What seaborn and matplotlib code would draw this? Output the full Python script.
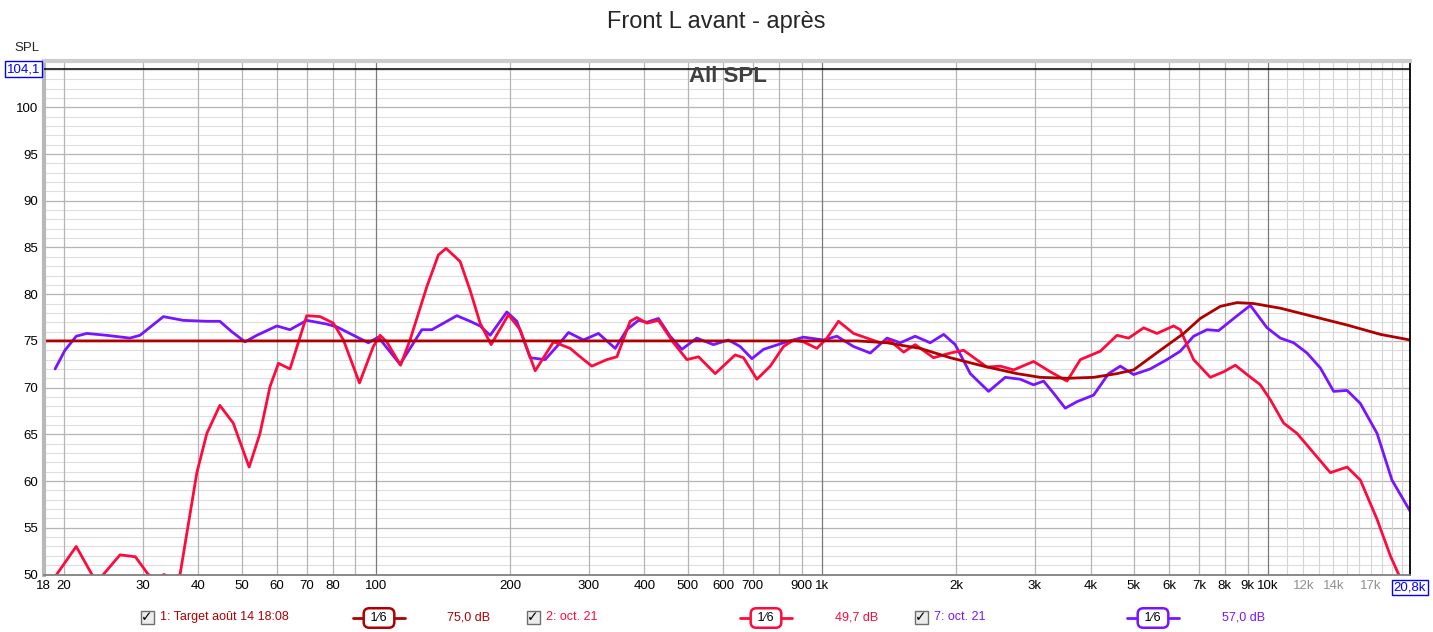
import numpy as np
import pandas as pd
import seaborn as sns
import matplotlib.pyplot as plt
from matplotlib.patches import Rectangle
from matplotlib.lines import Line2D

# curves (Hz, dB SPL)
target_hz = [18, 100, 1000, 1200, 1400, 1520, 1661, 1939, 2302, 2736, 3086, 3542, 4063,
             4585, 4995, 5733, 6468, 7045, 7816, 8518, 9281, 10653, 12654, 15035, 17852, 20800]
target_db = [75.0, 75.0, 75.0, 75.0, 74.8, 74.5, 74.2, 73.2, 72.3, 71.5, 71.1, 71.0, 71.1,
             71.5, 71.9, 74.0, 75.8, 77.4, 78.7, 79.1, 79.0, 78.5, 77.6, 76.7, 75.7, 75.1]

red_hz = [18.0, 19.25, 21.3, 23.1, 23.8, 24.5, 26.7, 28.9, 30.9, 32.2, 33.5, 34.9, 36.4,
          39.7, 41.8, 44.7, 47.9, 52.0, 55.0, 57.9, 60.5, 64.2, 70.0, 75.0, 80.3, 84.6,
          91.9, 98.7, 102.2, 105.8, 113.6, 119.3, 130.1, 138.1, 143.7, 154.5, 162.7, 171.3,
          181.3, 198.2, 210.6, 227.6, 250.2, 272.7, 287.1, 304.9, 329.5, 347, 371.5, 384.7,
          405, 430, 464.7, 498, 528.9, 576.3, 639, 667, 714.8, 765.7, 820, 863.5, 909, 974,
          1026, 1089, 1177, 1261, 1351, 1423, 1524, 1618, 1779, 1939, 2077, 2343, 2510,
          2689, 2981, 3249, 3542, 3795, 4207, 4585, 4867, 5260, 5635, 6141, 6356, 6808,
          7421, 7952, 8444, 8970, 9608, 10117, 10837, 11610, 12654, 13790, 15035, 16101,
          17550, 18796, 19622, 20800]
red_db = [47.0, 50.0, 53.0, 50.0, 49.4, 50.0, 52.1, 51.9, 50.0, 49.6, 50.0, 49.6, 50.0,
          60.9, 65.1, 68.1, 66.2, 61.5, 65.1, 70.1, 72.6, 72.0, 77.7, 77.6, 76.9, 75.1,
          70.5, 74.4, 75.6, 74.9, 72.4, 75.1, 80.8, 84.2, 84.9, 83.5, 80.4, 76.9,
          74.6, 77.8, 76.2, 71.8, 74.9, 74.2, 73.3, 72.3, 73.0, 73.3, 77.1, 77.5,
          76.9, 77.2, 74.8, 73.0, 73.3, 71.5, 73.5, 73.2, 70.9, 72.3, 74.4, 75.1, 74.9, 74.2,
          75.3, 77.1, 75.8, 75.3, 74.8, 75.0, 73.8, 74.6, 73.2, 73.7, 74.0, 72.2, 72.3,
          71.9, 72.8, 71.7, 70.7, 73.0, 73.9, 75.6, 75.3, 76.4, 75.8, 76.6, 76.2, 73.0,
          71.1, 71.7, 72.4, 71.4, 70.3, 68.7, 66.2, 65.1, 63.0, 60.9, 61.5, 60.1,
          55.9, 52.0, 50.0, 47.5]

purple_hz = [19.1, 20.1, 21.3, 22.5, 24.9, 28.1, 29.6, 33.4, 37.0, 41.8, 44.7, 47.5, 50.9,
             54.1, 60.0, 64.2, 70.0, 77.6, 81.8, 89.1, 96.2, 101.3, 113.3, 126.8, 133.5,
             139.4, 151.9, 162.7, 171.3, 180.4, 196.6, 207.0, 221.8, 239.6, 254.5, 270.3,
             292.0, 315.5, 344.0, 365.2, 387.9, 405, 430, 456.8, 485.3, 524, 571, 617,
             655.6, 696.6, 739.6, 820, 909, 1008, 1080, 1177, 1283, 1399, 1498, 1618, 1748,
             1874, 1989, 2150, 2363, 2575, 2782, 2981, 3139, 3305, 3510, 3730, 4063, 4390,
             4664, 4995, 5443, 5933, 6356, 6808, 7295, 7745, 8372, 9124, 9947, 10653,
             11410, 12227, 13097, 14027, 15035, 16101, 17550, 18954, 20800]
purple_db = [72.0, 74.0, 75.5, 75.8, 75.6, 75.3, 75.6, 77.6, 77.2, 77.1, 77.1, 76.0, 74.9,
             75.6, 76.6, 76.2, 77.2, 76.8, 76.5, 75.6, 74.8, 75.4, 72.5, 76.2, 76.2,
             76.7, 77.7, 77.1, 76.6, 75.6, 78.1, 77.1, 73.2, 73.0, 74.4, 75.9,
             75.1, 75.8, 74.2, 76.2, 77.2, 77.0, 77.4, 75.5, 74.1, 75.3, 74.6, 75.1,
             74.4, 73.1, 74.1, 74.8, 75.4, 75.1, 75.5, 74.4, 73.7, 75.3, 74.8, 75.5, 74.8,
             75.7, 74.6, 71.5, 69.6, 71.1, 70.9, 70.3, 70.7, 69.4, 67.8, 68.5, 69.2, 71.5,
             72.3, 71.4, 72.0, 73.0, 73.9, 75.5, 76.2, 76.1, 77.4, 78.8, 76.4, 75.3,
             74.8, 73.7, 72.1, 69.6, 69.7, 68.3, 65.1, 60.1, 56.8]

legend_names = ['1: Target août 14 18:08', '2: oct. 21', '7: oct. 21']
legend_values = ['75,0 dB', '49,7 dB', '57,0 dB']
colors = ['#b00000', '#ff0a3c', '#7814ff']

xtick_pos = [18, 20, 30, 40, 50, 60, 70, 80, 100, 200, 300, 400, 500, 600, 700, 900,
             1000, 2000, 3000, 4000, 5000, 6000, 7000, 8000, 9000, 10000, 12000, 14000, 17000]
xtick_lab = ['18', '20', '30', '40', '50', '60', '70', '80', '100', '200', '300', '400',
             '500', '600', '700', '900', '1k', '2k', '3k', '4k', '5k', '6k', '7k', '8k',
             '9k', '10k', '12k', '14k', '17k']

sns.set_style('white')
plt.rcParams['font.family'] = ['Liberation Sans', 'DejaVu Sans']

W, H = 1433, 632
def fx(px):
    return px / W
def fy(py):
    return 1 - py / H

fig = plt.figure(figsize=(W / 100, H / 100), dpi=100)
ax = fig.add_axes([fx(43.6), fy(574.5), (1410 - 43.6) / W, (574.5 - 60.6) / H])
ax.set_xscale('log')
ax.set_xlim(18, 20800)
ax.set_ylim(50, 105)

# grid like REW
for v in range(50, 106):
    if v % 5 == 0:
        ax.axhline(v, color='#b4b4b4', lw=0.9, zorder=0)
    else:
        ax.axhline(v, color='#dedede', lw=0.8, zorder=0)
for dec in [10, 100, 1000]:
    for m in range(2, 10):
        if m * dec > 18:
            ax.axvline(m * dec, color='#b4b4b4', lw=0.9, zorder=0)
for f in range(11000, 21000, 1000):
    ax.axvline(f, color='#d4d4d4', lw=0.8, zorder=0)
for f in [100, 1000, 10000]:
    ax.axvline(f, color='#7a7a7a', lw=0.9, zorder=0.5)
ax.axhline(104.1, color='black', lw=1.1, zorder=3)

curves = [(target_hz, target_db, 2.0), (red_hz, red_db, 2.0), (purple_hz, purple_db, 2.0)]
for (hz, db, lw), c in zip(curves[::-1], colors[::-1]):
    df = pd.DataFrame({'hz': hz, 'db': db})
    sns.lineplot(data=df, x='hz', y='db', ax=ax, color=c, lw=lw, sort=False,
                 estimator=None, zorder=2, solid_joinstyle='round', solid_capstyle='round')

ax.set_xlabel('')
ax.set_ylabel('')
ax.xaxis.set_minor_locator(plt.NullLocator())
ax.set_xticks(xtick_pos, xtick_lab)
ax.set_yticks(range(50, 101, 5))
ax.tick_params(length=0, labelsize=9.5, colors='black')
ax.tick_params(axis='x', pad=4)
ax.tick_params(axis='y', pad=4)
for lbl in ax.get_xticklabels():
    if lbl.get_text() in ('12k', '14k', '17k'):
        lbl.set_color('#909090')

for side, (c, w) in {'left': ('#b8b8b8', 3), 'bottom': ('#808080', 1.3),
                     'top': ('#cccccc', 3), 'right': ('black', 1.3)}.items():
    ax.spines[side].set_color(c)
    ax.spines[side].set_linewidth(w)

ax.text(20800, -0.025, '20,8k', transform=ax.get_xaxis_transform(), ha='center', va='center',
        fontsize=9.5, color='#0000ff',
        bbox=dict(boxstyle='square,pad=0.12', fc='white', ec='#0000ff', lw=1))
fig.text(fx(23.5), fy(69), '104,1', ha='center', va='center', fontsize=9.5, color='#0000ff',
         bbox=dict(boxstyle='square,pad=0.12', fc='white', ec='#0000ff', lw=1))
fig.text(fx(27), fy(48), 'SPL', ha='center', va='center', fontsize=9.5)

fig.text(0.5, fy(22), 'Front L avant - après', ha='center', va='center', fontsize=17)
fig.text(fx(728), fy(76), 'All SPL', ha='center', va='center', fontsize=16,
         fontweight='bold', color='#404040')

# legend row
box_x = [147, 533, 921]
line_x = [379, 766, 1153]
val_x = [447, 835, 1222]
ly = 617
for i in range(3):
    c = colors[i]
    fig.add_artist(Rectangle((fx(box_x[i] - 6.5), fy(ly + 6.5)), 13 / W, 13 / H,
                             transform=fig.transFigure, fc='#ececec', ec='#6e6e6e', lw=1))
    fig.text(fx(box_x[i]), fy(ly), '✓', ha='center', va='center', fontsize=10,
             fontweight='bold', color='black')
    fig.text(fx(box_x[i] + 13), fy(ly), legend_names[i], ha='left', va='center',
             fontsize=9, color=c)
    fig.add_artist(Line2D([fx(line_x[i] - 26), fx(line_x[i] + 26)], [fy(ly + 1)] * 2,
                          transform=fig.transFigure, color=c, lw=2))
    fig.text(fx(line_x[i]), fy(ly + 1), ' 1⁄6 ', ha='center', va='center', fontsize=9,
             color='black',
             bbox=dict(boxstyle='round,pad=0.3,rounding_size=0.45', fc='white', ec=c, lw=1.8))
    fig.text(fx(val_x[i]), fy(ly), legend_values[i], ha='left', va='center',
             fontsize=9, color=c)

fig.savefig('out.png', dpi=100)
